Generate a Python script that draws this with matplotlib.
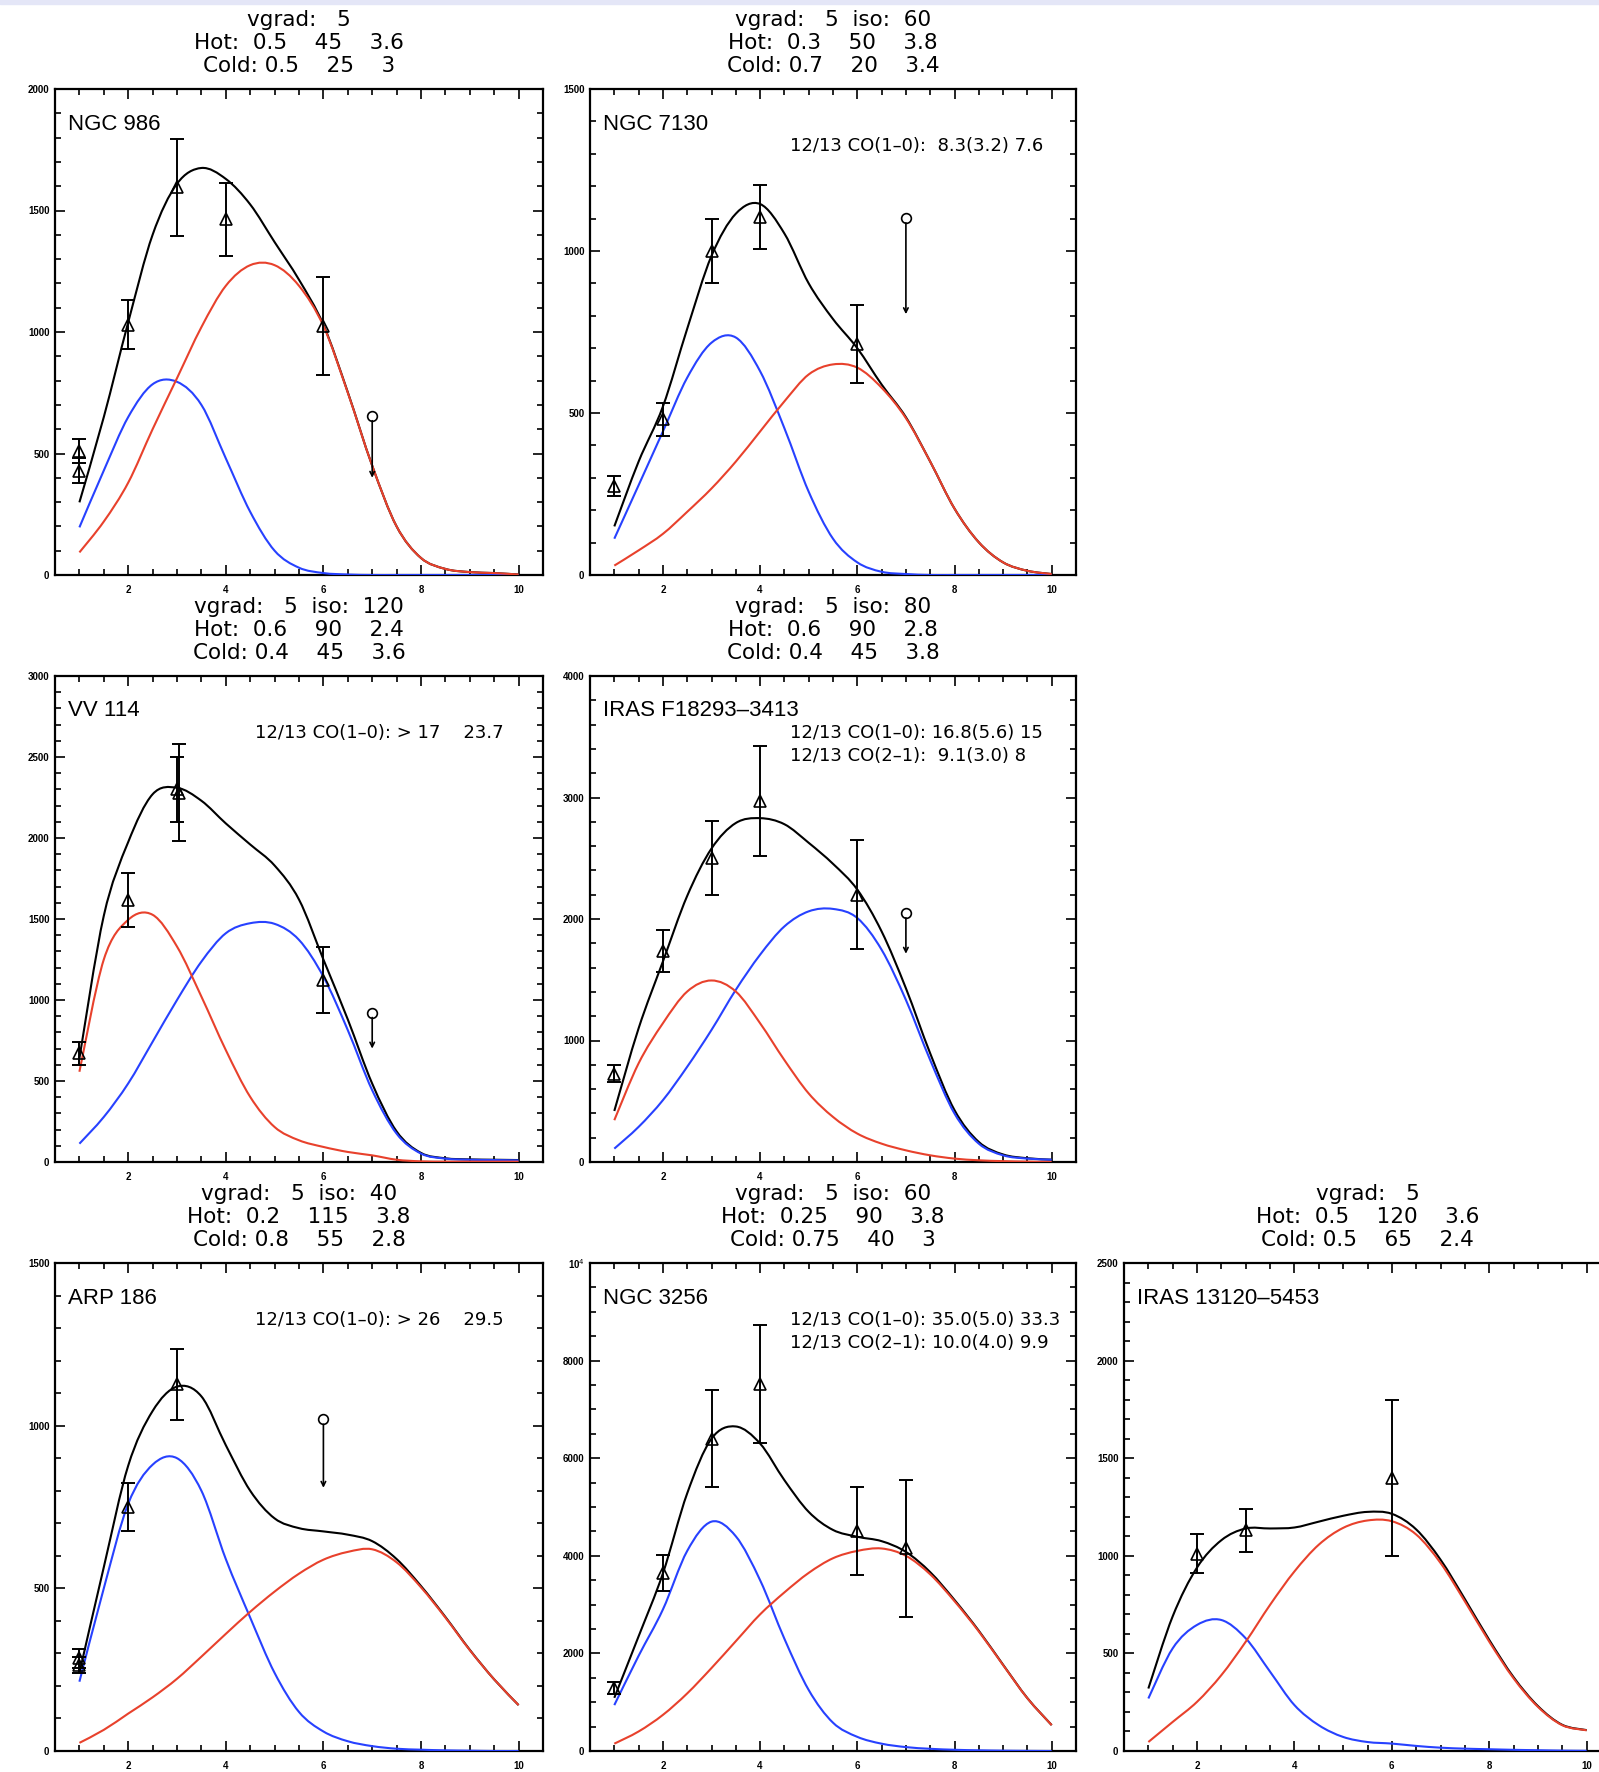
import matplotlib
matplotlib.use('Agg')
import matplotlib.pyplot as plt
from matplotlib.ticker import MultipleLocator
from matplotlib.patches import Rectangle, PathPatch
from matplotlib.path import Path

plt.rcParams['font.family'] = ['Liberation Sans', 'DejaVu Sans']

W, H = 1599, 1772
PT = 0.72  # pixels -> points at dpi 100

# velocity grid of the model curves
vel = [1, 1.5, 2, 2.5, 3, 3.5, 4, 4.5, 5, 5.5, 6, 6.5, 7, 7.5, 8, 8.5, 9, 9.5, 10]
x_ticks = [2, 4, 6, 8, 10]
x_labels = ['2', '4', '6', '8', '10']

# ---- NGC 986
ngc986_blue = [196, 430, 650, 785, 795, 700, 480, 260, 100, 30, 8, 2, 0, 0, 0, 0, 0, 0, 0]
ngc986_red = [93, 220, 380, 600, 810, 1020, 1190, 1275, 1275, 1190, 1025, 750, 450, 200, 70, 25, 12, 8, 2]
ngc986_black = [299, 650, 1040, 1400, 1610, 1675, 1630, 1525, 1370, 1215, 1030, 752, 450, 200, 70, 25, 12, 8, 2]
ngc986_tx = [1, 1, 2, 3, 4, 6]
ngc986_ty = [510, 430, 1030, 1595, 1463, 1025]
ngc986_te = [50, 50, 100, 200, 150, 200]
ngc986_lx = [7]
ngc986_ly = [655]
ngc986_lt = [400]

# ---- NGC 7130
ngc7130_blue = [112, 277, 443, 609, 717, 733, 629, 453, 257, 112, 39, 10, 3, 0, 0, 0, 0, 0, 0]
ngc7130_red = [29, 76, 127, 195, 267, 350, 443, 536, 619, 650, 640, 578, 484, 350, 205, 101, 39, 13, 3]
ngc7130_black = [150, 350, 520, 760, 985, 1115, 1145, 1054, 900, 790, 700, 588, 487, 350, 205, 101, 39, 13, 3]
ngc7130_tx = [1, 2, 3, 4, 6]
ngc7130_ty = [275, 480, 1000, 1105, 712]
ngc7130_te = [30, 50, 100, 100, 120]
ngc7130_lx = [7]
ngc7130_ly = [1102]
ngc7130_lt = [805]

# ---- VV 114
vv114_blue = [113, 278, 485, 742, 1000, 1237, 1412, 1474, 1470, 1371, 1144, 814, 443, 175, 52, 21, 14, 12, 10]
vv114_red = [557, 1250, 1495, 1526, 1330, 1021, 691, 402, 216, 134, 93, 62, 41, 14, 4, 2, 2, 2, 2]
vv114_black = [640, 1520, 1975, 2270, 2310, 2230, 2090, 1960, 1830, 1620, 1250, 880, 484, 189, 56, 23, 16, 14, 12]
vv114_tx = [1, 2, 3, 3.05, 6]
vv114_ty = [670, 1620, 2300, 2280, 1124]
vv114_te = [72, 167, 200, 300, 206]
vv114_lx = [7]
vv114_ly = [922]
vv114_lt = [700]

# ---- IRAS F18293-3413
f18293_blue = [110, 289, 509, 784, 1087, 1417, 1706, 1939, 2063, 2083, 2008, 1747, 1334, 839, 399, 151, 55, 28, 19]
f18293_red = [344, 812, 1142, 1403, 1494, 1403, 1142, 839, 564, 371, 234, 151, 96, 55, 28, 14, 7, 3, 0]
f18293_black = [420, 1100, 1650, 2190, 2580, 2790, 2830, 2780, 2627, 2454, 2242, 1898, 1430, 894, 427, 165, 62, 31, 19]
f18293_tx = [1, 2, 3, 4, 6]
f18293_ty = [725, 1735, 2500, 2970, 2200]
f18293_te = [70, 175, 305, 450, 450]
f18293_lx = [7]
f18293_ly = [2050]
f18293_lt = [1714]

# ---- ARP 186
arp186_blue = [213, 500, 760, 880, 900, 800, 590, 410, 240, 120, 60, 30, 15, 7, 4, 2, 1, 0, 0]
arp186_red = [25, 65, 115, 165, 222, 290, 360, 428, 490, 545, 588, 612, 620, 580, 503, 410, 310, 220, 141]
arp186_black = [240, 565, 877, 1045, 1120, 1090, 940, 800, 715, 685, 675, 665, 645, 590, 507, 412, 311, 220, 141]
arp186_tx = [1, 1, 2, 3]
arp186_ty = [285, 265, 750, 1127]
arp186_te = [30, 25, 75, 110]
arp186_lx = [6]
arp186_ly = [1019]
arp186_lt = [809]

# ---- NGC 3256
ngc3256_blue = [940, 1950, 2900, 4100, 4700, 4400, 3500, 2300, 1250, 580, 290, 150, 80, 45, 25, 14, 7, 3, 0]
ngc3256_red = [150, 400, 740, 1180, 1700, 2250, 2800, 3250, 3650, 3950, 4100, 4150, 4000, 3620, 3070, 2450, 1760, 1080, 530]
ngc3256_black = [1090, 2350, 3640, 5280, 6400, 6650, 6300, 5550, 4900, 4530, 4390, 4300, 4080, 3665, 3095, 2464, 1767, 1083, 530]
ngc3256_tx = [1, 2, 3, 4, 6, 7]
ngc3256_ty = [1290, 3650, 6400, 7520, 4510, 4150]
ngc3256_te = [130, 370, 1000, 1200, 900, 1400]
ngc3256_lx = []
ngc3256_ly = []
ngc3256_lt = []

# ---- IRAS 13120-5453
i13120_blue = [269, 526, 646, 671, 577, 406, 235, 132, 72, 46, 38, 26, 17, 12, 9, 6, 4, 2, 1]
i13120_red = [46, 149, 252, 389, 560, 749, 920, 1057, 1143, 1181, 1177, 1109, 963, 766, 560, 372, 226, 132, 106]
i13120_black = [320, 690, 940, 1080, 1140, 1140, 1145, 1175, 1205, 1225, 1215, 1135, 980, 778, 569, 378, 230, 134, 107]
i13120_tx = [2, 3, 6]
i13120_ty = [1010, 1130, 1400]
i13120_te = [100, 110, 400]
i13120_lx = []
i13120_ly = []
i13120_lt = []

panels = [
    dict(name='NGC 986', box=(55, 89, 543, 575),
         header=['vgrad:   5', 'Hot:  0.5    45    3.6', 'Cold: 0.5    25    3'],
         co=[], ymax=2000, yticks=[0, 500, 1000, 1500, 2000],
         ylabels=['0', '500', '1000', '1500', '2000'], yminor=100,
         blue=ngc986_blue, red=ngc986_red, black=ngc986_black,
         tx=ngc986_tx, ty=ngc986_ty, te=ngc986_te,
         lx=ngc986_lx, ly=ngc986_ly, lt=ngc986_lt),
    dict(name='NGC 7130', box=(590, 89, 1076, 575),
         header=['vgrad:   5  iso:  60', 'Hot:  0.3    50    3.8', 'Cold: 0.7    20    3.4'],
         co=['12/13 CO(1\u20130):  8.3(3.2) 7.6'], ymax=1500, yticks=[0, 500, 1000, 1500],
         ylabels=['0', '500', '1000', '1500'], yminor=100,
         blue=ngc7130_blue, red=ngc7130_red, black=ngc7130_black,
         tx=ngc7130_tx, ty=ngc7130_ty, te=ngc7130_te,
         lx=ngc7130_lx, ly=ngc7130_ly, lt=ngc7130_lt),
    dict(name='VV 114', box=(55, 676, 543, 1162),
         header=['vgrad:   5  iso:  120', 'Hot:  0.6    90    2.4', 'Cold: 0.4    45    3.6'],
         co=['12/13 CO(1\u20130): > 17    23.7'], ymax=3000,
         yticks=[0, 500, 1000, 1500, 2000, 2500, 3000],
         ylabels=['0', '500', '1000', '1500', '2000', '2500', '3000'], yminor=100,
         blue=vv114_blue, red=vv114_red, black=vv114_black,
         tx=vv114_tx, ty=vv114_ty, te=vv114_te,
         lx=vv114_lx, ly=vv114_ly, lt=vv114_lt),
    dict(name='IRAS F18293\u20133413', box=(590, 676, 1076, 1162),
         header=['vgrad:   5  iso:  80', 'Hot:  0.6    90    2.8', 'Cold: 0.4    45    3.8'],
         co=['12/13 CO(1\u20130): 16.8(5.6) 15', '12/13 CO(2\u20131):  9.1(3.0) 8'], ymax=4000,
         yticks=[0, 1000, 2000, 3000, 4000],
         ylabels=['0', '1000', '2000', '3000', '4000'], yminor=200,
         blue=f18293_blue, red=f18293_red, black=f18293_black,
         tx=f18293_tx, ty=f18293_ty, te=f18293_te,
         lx=f18293_lx, ly=f18293_ly, lt=f18293_lt),
    dict(name='ARP 186', box=(55, 1263, 543, 1751),
         header=['vgrad:   5  iso:  40', 'Hot:  0.2    115    3.8', 'Cold: 0.8    55    2.8'],
         co=['12/13 CO(1\u20130): > 26    29.5'], ymax=1500, yticks=[0, 500, 1000, 1500],
         ylabels=['0', '500', '1000', '1500'], yminor=100,
         blue=arp186_blue, red=arp186_red, black=arp186_black,
         tx=arp186_tx, ty=arp186_ty, te=arp186_te,
         lx=arp186_lx, ly=arp186_ly, lt=arp186_lt),
    dict(name='NGC 3256', box=(590, 1263, 1076, 1751),
         header=['vgrad:   5  iso:  60', 'Hot:  0.25    90    3.8', 'Cold: 0.75    40    3'],
         co=['12/13 CO(1\u20130): 35.0(5.0) 33.3', '12/13 CO(2\u20131): 10.0(4.0) 9.9'], ymax=10000,
         yticks=[0, 2000, 4000, 6000, 8000, 10000],
         ylabels=['0', '2000', '4000', '6000', '8000', '10$^4$'], yminor=500,
         blue=ngc3256_blue, red=ngc3256_red, black=ngc3256_black,
         tx=ngc3256_tx, ty=ngc3256_ty, te=ngc3256_te,
         lx=ngc3256_lx, ly=ngc3256_ly, lt=ngc3256_lt),
    dict(name='IRAS 13120\u20135453', box=(1124, 1263, 1611, 1751),
         header=['vgrad:   5', 'Hot:  0.5    120    3.6', 'Cold: 0.5    65    2.4'],
         co=[], ymax=2500, yticks=[0, 500, 1000, 1500, 2000, 2500],
         ylabels=['0', '500', '1000', '1500', '2000', '2500'], yminor=100,
         blue=i13120_blue, red=i13120_red, black=i13120_black,
         tx=i13120_tx, ty=i13120_ty, te=i13120_te,
         lx=i13120_lx, ly=i13120_ly, lt=i13120_lt),
]


def smooth_curve(ax, xs, ys, color, z):
    # bezier path through every read point (Catmull-Rom tangents), in data coords
    pts = list(zip(xs, ys))
    n = len(pts)
    verts = [pts[0]]
    codes = [Path.MOVETO]
    for i in range(n - 1):
        p0 = pts[max(i - 1, 0)]
        p1 = pts[i]
        p2 = pts[i + 1]
        p3 = pts[min(i + 2, n - 1)]
        c1 = (p1[0] + (p2[0] - p0[0]) / 6, p1[1] + (p2[1] - p0[1]) / 6)
        c2 = (p2[0] - (p3[0] - p1[0]) / 6, p2[1] - (p3[1] - p1[1]) / 6)
        verts += [c1, c2, p2]
        codes += [Path.CURVE4] * 3
    ax.add_patch(PathPatch(Path(verts, codes), fill=False, edgecolor=color,
                           lw=1.5, zorder=z))


fig = plt.figure(figsize=(W / 100, H / 100), dpi=100)
fig.add_artist(Rectangle((0, 1 - 4 / H), 1, 4 / H, transform=fig.transFigure,
                         color='#e4e6f7', zorder=0))

for p in panels:
    l, t, r, b = p['box']
    ax = fig.add_axes([l / W, 1 - b / H, (r - l) / W, (b - t) / H])
    ax.set_xlim(0.5, 10.5)
    ax.set_ylim(0, p['ymax'])

    # model curves: total, then the two components on top
    smooth_curve(ax, vel, p['black'], 'black', 2)
    smooth_curve(ax, vel, p['blue'], '#2741ff', 3)
    smooth_curve(ax, vel, p['red'], '#e8412c', 3)

    # measured points
    ax.errorbar(p['tx'], p['ty'], yerr=p['te'], fmt='none', ecolor='black',
                elinewidth=1.4, capsize=5, capthick=1.4, zorder=5)
    ax.plot(p['tx'], p['ty'], ls='none', marker='^', ms=9, mfc='none',
            mec='black', mew=1.2, zorder=6)
    # upper limits
    ax.plot(p['lx'], p['ly'], ls='none', marker='o', ms=7, mfc='none',
            mec='black', mew=1.2, zorder=6)
    for x, y, tip in zip(p['lx'], p['ly'], p['lt']):
        ax.annotate('', xy=(x, tip), xytext=(x, y),
                    arrowprops=dict(arrowstyle='->', lw=1.2, color='black',
                                    shrinkA=3.5, shrinkB=0, mutation_scale=8))

    # axes styling, IDL-like
    for s in ax.spines.values():
        s.set_linewidth(1.6)
    ax.set_xticks(x_ticks, labels=x_labels, fontsize=7, fontweight='bold')
    ax.set_yticks(p['yticks'], labels=p['ylabels'], fontsize=7, fontweight='bold')
    ax.xaxis.set_minor_locator(MultipleLocator(0.5))
    ax.yaxis.set_minor_locator(MultipleLocator(p['yminor']))
    ax.tick_params(which='both', direction='in', top=True, right=True, width=1.2)
    ax.tick_params(which='major', length=7)
    ax.tick_params(which='minor', length=4)
    ax.tick_params(axis='x', pad=7)
    ax.tick_params(axis='y', pad=4)

    # header above panel
    for k, line in enumerate(p['header']):
        ax.annotate(line, xy=(0.5, 1), xycoords='axes fraction',
                    xytext=(0, (69 - 23 * k) * PT), textcoords='offset points',
                    ha='center', va='center', fontsize=15.5, family='DejaVu Sans')
    ax.annotate(p['name'], xy=(0, 1), xycoords='axes fraction',
                xytext=(13 * PT, -35 * PT), textcoords='offset points',
                ha='left', va='center', fontsize=16)
    for k, line in enumerate(p['co']):
        ax.annotate(line, xy=(0, 1), xycoords='axes fraction',
                    xytext=(200 * PT, -(57 + 23 * k) * PT), textcoords='offset points',
                    ha='left', va='center', fontsize=13, family='DejaVu Sans')

fig.savefig('out.png', dpi=100)
